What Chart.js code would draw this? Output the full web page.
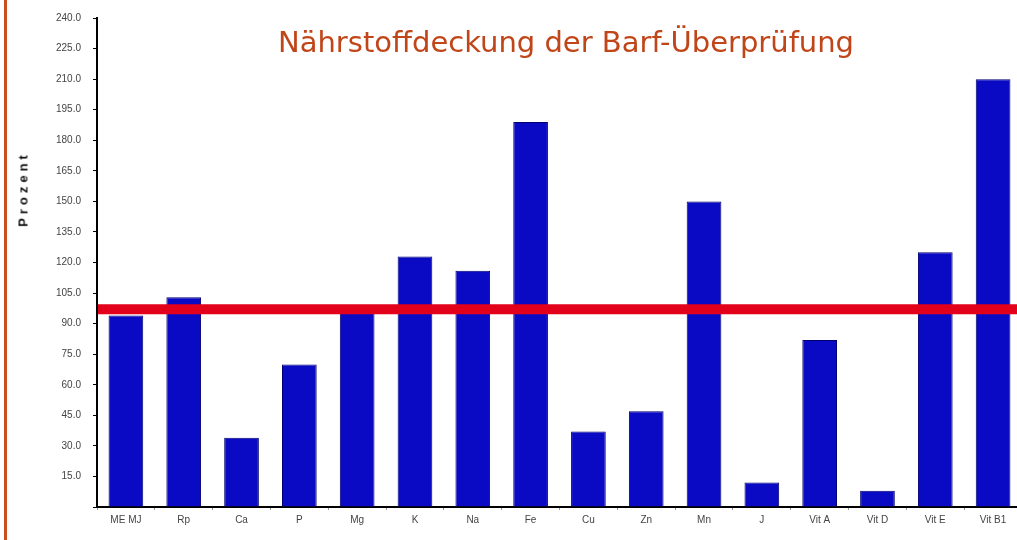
<!DOCTYPE html>
<html>
<head>
<meta charset="utf-8">
<script src="https://cdn.jsdelivr.net/npm/chart.js@4"></script>
<style>
  html, body { margin: 0; padding: 0; background: #fff; overflow: hidden; }
  #wrap { position: relative; width: 1017px; height: 540px; overflow: hidden; background: #fff; }
  #chart { position: absolute; left: 0; top: 0; }
  #edge { position: absolute; left: 4px; top: 0; width: 3px; height: 540px; background: #c9501e; }
  #title {
    position: absolute; left: 278px; top: 26px; white-space: nowrap;
    font-family: "DejaVu Sans", sans-serif; font-size: 29px; line-height: 32px;
    color: #c0461a;
  }
  #ylabel {
    position: absolute; left: 23px; top: 189px; white-space: nowrap;
    transform: translate(-50%, -50%) rotate(-90deg);
    font-family: "Liberation Sans", Arial, sans-serif; font-weight: bold;
    font-size: 13px; letter-spacing: 4px; color: #111;
  }
</style>
</head>
<body>
<div id="wrap">
  <canvas id="chart" width="1022" height="540"></canvas>
  <div id="edge"></div>
  <div id="title">Nährstoffdeckung der Barf-Überprüfung</div>
  <div id="ylabel">Prozent</div>
</div>
<script>
const categories = ['ME MJ', 'Rp', 'Ca', 'P', 'Mg', 'K', 'Na', 'Fe', 'Cu', 'Zn', 'Mn', 'J', 'Vit A', 'Vit D', 'Vit E', 'Vit B1'];
const coverage = [94, 103, 34, 70, 96, 123, 116, 189, 37, 47, 150, 12, 82, 8, 125, 210];
const referenceLevel = 97;
const yMax = 240;
const yStep = 15;

// red reference line across the whole plot, drawn over the bars
const refLine = {
    id: 'refLine',
    afterDatasetsDraw(chart) {
        const { ctx, chartArea, scales } = chart;
        const y = scales.y.getPixelForValue(referenceLevel);
        ctx.save();
        ctx.strokeStyle = '#e2001a';
        ctx.lineWidth = 10;
        ctx.beginPath();
        ctx.moveTo(chartArea.left + 1, y);
        ctx.lineTo(chartArea.right + 10, y);
        ctx.stroke();
        ctx.restore();
    }
};

const ctx = document.getElementById('chart').getContext('2d');
new Chart(ctx, {
    type: 'bar',
    data: {
        labels: categories,
        datasets: [{
            data: coverage,
            backgroundColor: '#0a0ac4',
            borderColor: '#000070',
            borderWidth: 1,
            barPercentage: 0.6,
            categoryPercentage: 1
        }]
    },
    options: {
        responsive: false,
        animation: false,
        devicePixelRatio: 1,
        layout: { padding: { top: 16, right: 0, left: 0, bottom: 0 } },
        plugins: {
            legend: { display: false },
            tooltip: { enabled: false }
        },
        scales: {
            y: {
                min: 0,
                max: yMax,
                afterFit: s => { s.width = 97; },
                border: { display: true, color: '#000', width: 2 },
                grid: { drawOnChartArea: false, tickLength: 4, color: '#000' },
                ticks: {
                    stepSize: yStep,
                    padding: 12,
                    color: '#444',
                    font: { family: 'Liberation Sans', size: 10 },
                    callback: v => v === 0 ? '' : v.toFixed(1)
                }
            },
            x: {
                afterFit: s => { s.height = 33; },
                border: { display: true, color: '#000', width: 2 },
                grid: { drawOnChartArea: false, tickLength: 3, color: '#999' },
                ticks: {
                    padding: 4,
                    color: '#444',
                    maxRotation: 0,
                    font: { family: 'Liberation Sans', size: 10 }
                }
            }
        }
    },
    plugins: [refLine]
});
</script>
</body>
</html>
